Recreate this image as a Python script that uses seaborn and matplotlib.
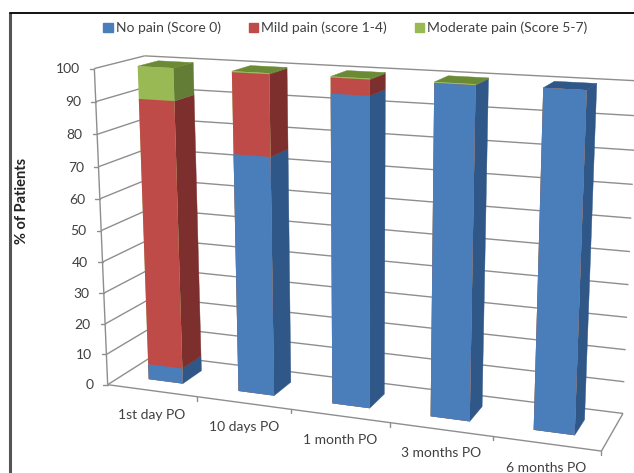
#!/usr/bin/env python3
"""Stacked 3D-look bars of post-op pain scores, drawn with a fitted perspective."""

import matplotlib

matplotlib.use("Agg")
import matplotlib.pyplot as plt
import numpy as np
import seaborn as sns
from matplotlib.patches import Patch
from matplotlib.transforms import Transform

categories = ["1st day PO", "10 days PO", "1 month PO", "3 months PO", "6 months PO"]
no_pain = [5, 75, 95, 99.7, 100]
mild_pain = [85, 24.7, 4.7, 0, 0]
moderate_pain = [10, 0.3, 0.3, 0.3, 0]
series_labels = ["No pain (Score 0)", "Mild pain (score 1-4)", "Moderate pain (Score 5-7)"]
y_ticks = list(range(0, 101, 10))

FRONT_COLORS = ["#4a7ebb", "#be4b48", "#98b954"]
SIDE_COLORS = ["#2f5788", "#7d2f2d", "#647d36"]
TOP_COLORS = ["#2f5788", "#7d2f2d", "#6b8a36"]
GRID = "#8e8e8e"
TEXT = "#404040"

BAR_W = 0.385
V_FRONT = 0.29
V_BACK = 0.71

# camera calibration: (category pos, depth, value) -> reference pixel
_U0, _U1 = 0.5 - BAR_W / 2, 0.5 + BAR_W / 2
_CAL = [
    (0, 0, 0, 108, 385), (0, 0, 100, 93, 68), (0, 1, 100, 143, 55),
    (5, 1, 0, 622, 413), (5, 0, 0, 601, 451), (5, 1, 50, 631, 251),
    (1, 0, 0, 197, 398), (2, 0, 0, 292, 410), (3, 0, 0, 389, 423), (4, 0, 0, 492, 436),
    (_U0, V_FRONT, 0, 148, 378), (_U1, V_FRONT, 0, 184, 384), (_U1, V_BACK, 0, 201, 370),
    (_U0, V_FRONT, 100, 137, 66), (_U1, V_FRONT, 100, 175, 69),
    (_U1, V_BACK, 100, 192, 63), (_U0, V_BACK, 100, 162, 61),
    (4 + _U0, V_FRONT, 0, 534, 428), (4 + _U1, V_FRONT, 0, 576, 434), (4 + _U1, V_BACK, 0, 585, 423),
    (4 + _U0, V_FRONT, 100, 543, 88), (4 + _U1, V_FRONT, 100, 588, 89),
    (4 + _U1, V_BACK, 100, 598, 84), (4 + _U0, V_BACK, 100, 551, 82),
]


def fit_camera(cal):
    rows, rhs = [], []
    for u, v, z, px, py in cal:
        rows.append([u, v, z, 1, 0, 0, 0, 0, -u * px, -v * px, -z * px])
        rhs.append(px)
        rows.append([0, 0, 0, 0, u, v, z, 1, -u * py, -v * py, -z * py])
        rhs.append(py)
    p = np.linalg.lstsq(np.array(rows, float), np.array(rhs, float), rcond=None)[0]
    return np.append(p, 1.0).reshape(3, 4)


CAM = fit_camera(_CAL)


def project(u, v, z):
    u, v, z = np.broadcast_arrays(np.asarray(u, float), np.asarray(v, float), np.asarray(z, float))
    pts = np.stack([u, v, z, np.ones_like(u)], axis=-1) @ CAM.T
    return pts[..., 0] / pts[..., 2], pts[..., 1] / pts[..., 2]


class FrontPlane(Transform):
    """Maps seaborn's (category index, value) onto the front plane of the bars."""

    input_dims = 2
    output_dims = 2
    has_inverse = False

    def transform_non_affine(self, values):
        values = np.asarray(values, float)
        x, y = project(values[:, 0] + 0.5, V_FRONT, values[:, 1])
        return np.column_stack([x, y])


def line3d(ax, a, b, **kw):
    x, y = project([a[0], b[0]], [a[1], b[1]], [a[2], b[2]])
    ax.plot(x, y, color=kw.pop("color", GRID), lw=kw.pop("lw", 1.0), zorder=kw.pop("zorder", 1),
            solid_capstyle="butt", **kw)


def face3d(ax, corners, color, zorder=3):
    x, y = project(*np.array(corners, float).T)
    ax.fill(x, y, color=color, lw=0.3, zorder=zorder)


def draw_walls(ax):
    for val in y_ticks:
        line3d(ax, (0, 0, val), (0, 1, val))
        line3d(ax, (0, 1, val), (5, 1, val))
        x, y = project(0, 0, val)
        ax.plot([x - 4.5, x], [y, y], color=GRID, lw=1.0, zorder=1)
        ax.text(x - 14.5, y + 0.8, str(val), ha="right", va="center", fontsize=10, color=TEXT)
    line3d(ax, (0, 0, 0), (0, 0, 100))
    line3d(ax, (0, 0, 0), (5, 0, 0))
    line3d(ax, (5, 0, 0), (5, 1, 0))
    for i in range(1, 6):
        x, y = project(i, 0, 0)
        ax.plot([x, x], [y, y + 4], color=GRID, lw=1.0, zorder=1)
    for i, label in enumerate(categories):
        x, y = project(i + 0.5, 0, 0)
        ax.text(x, y + 24, label, ha="center", va="center", fontsize=10, color=TEXT)


def draw_bars(ax):
    stacks = np.array([no_pain, mild_pain, moderate_pain], float)
    tops = stacks.cumsum(axis=0)

    # front faces: tallest cumulative first, the smaller stacks paint over it
    for level in (2, 1, 0):
        before = len(ax.patches)
        sns.barplot(x=categories, y=tops[level], color=FRONT_COLORS[level], saturation=1,
                    width=BAR_W, linewidth=0, ax=ax)
        for patch in ax.patches[before:]:
            patch.set_transform(FrontPlane() + ax.transData)
            patch.set_zorder(4)

    for i in range(len(categories)):
        u0, u1 = i + 0.5 - BAR_W / 2, i + 0.5 + BAR_W / 2
        low = 0.0
        top_level = 0
        for level in range(3):
            high = tops[level, i]
            if stacks[level, i] > 0:
                face3d(ax, [(u1, V_FRONT, low), (u1, V_BACK, low),
                            (u1, V_BACK, high), (u1, V_FRONT, high)], SIDE_COLORS[level])
                top_level = level
            low = high
        face3d(ax, [(u0, V_FRONT, low), (u1, V_FRONT, low),
                    (u1, V_BACK, low), (u0, V_BACK, low)], TOP_COLORS[top_level])


def main():
    sns.set_theme(style="white")
    plt.rcParams["font.family"] = ["Lato", "DejaVu Sans"]

    fig = plt.figure(figsize=(6.34, 4.73), dpi=100, facecolor="white")
    ax = fig.add_axes([0, 0, 1, 1])

    draw_walls(ax)
    draw_bars(ax)

    # outer chart frame, only the left and top edges are in shot
    ax.plot([10, 10], [13, 473], color="#555555", lw=2.2, zorder=6)
    ax.plot([10, 634], [13, 13], color="#111111", lw=1.4, zorder=6)

    handles = [Patch(color=c, label=s) for c, s in zip(FRONT_COLORS, series_labels)]
    ax.legend(handles=handles, ncol=3, loc="center", bbox_to_anchor=(345.5 / 634, 1 - 28 / 473),
              frameon=False, fontsize=10, handlelength=0.65, handleheight=0.65,
              handletextpad=0.25, columnspacing=2.0, labelcolor=TEXT)

    ax.text(22, 201, "% of Patients", rotation=90, ha="center", va="center",
            fontsize=10.5, fontweight="bold", color="#222222")

    ax.set_xlim(0, 634)
    ax.set_ylim(473, 0)
    ax.axis("off")

    fig.savefig("out.png", dpi=100, facecolor="white")
    plt.close(fig)


if __name__ == "__main__":
    main()
